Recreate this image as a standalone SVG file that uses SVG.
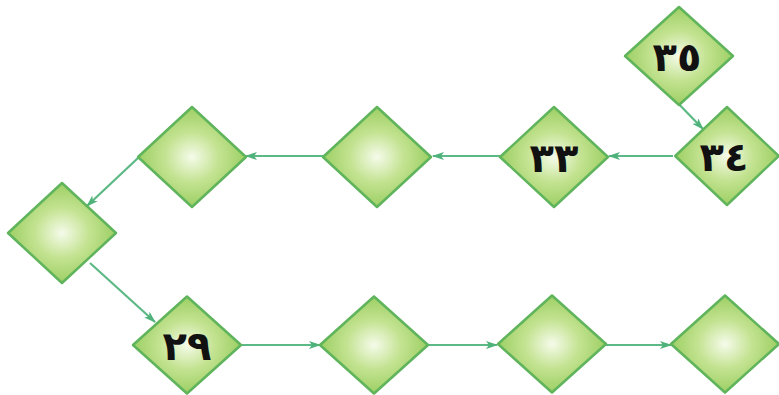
<svg xmlns="http://www.w3.org/2000/svg" width="779" height="395" viewBox="0 0 779 395">
<defs>
<radialGradient id="g" cx="0.5" cy="0.5" r="0.5">
<stop offset="0" stop-color="#f5fbea"/>
<stop offset="0.5" stop-color="#c4e392"/>
<stop offset="1" stop-color="#9ccf63"/>
</radialGradient>
<marker id="a" markerWidth="12" markerHeight="8" refX="11" refY="4" orient="auto" markerUnits="userSpaceOnUse">
<path d="M0,0 L12,4 L0,8 L3,4 Z" fill="#4fb27a"/>
</marker>
<path id="d" d="M0,-50 L54,0 L0,50 L-54,0 Z"/>
</defs>
<style>
.n use{fill:url(#g);stroke:#5fb45c;stroke-width:2.5;stroke-linejoin:round}
.n text{font-family:"DejaVu Sans",sans-serif;font-weight:bold;font-size:40px;fill:#111;text-anchor:middle}
.c line{stroke:#5cb985;stroke-width:2.2;marker-end:url(#a)}
</style>
<rect width="779" height="395" fill="#fff"/>
<g id="connectors" class="c">
<line x1="670" y1="95" x2="703" y2="129"/>
<line x1="673" y1="156" x2="609" y2="156"/>
<line x1="501" y1="156" x2="433" y2="156"/>
<line x1="323" y1="156" x2="246" y2="156"/>
<line x1="138" y1="158" x2="87" y2="206"/>
<line x1="90" y1="263" x2="155" y2="322"/>
<line x1="241" y1="345" x2="320" y2="345"/>
<line x1="428" y1="345" x2="497" y2="345"/>
<line x1="606" y1="345" x2="671" y2="345"/>
</g>
<g id="n35" class="n"><use href="#d" transform="translate(679,56) scale(1,0.98)"/><text x="677" y="71">٣٥</text></g>
<g id="n34" class="n"><use href="#d" transform="translate(727,156) scale(0.96,0.98)"/><text x="724" y="171">٣٤</text></g>
<g id="n33" class="n"><use href="#d" transform="translate(554,157)"/><text x="554" y="172">٣٣</text></g>
<g id="n32" class="n"><use href="#d" transform="translate(377,157)"/></g>
<g id="n31" class="n"><use href="#d" transform="translate(192,157)"/></g>
<g id="n30" class="n"><use href="#d" transform="translate(62,233)"/></g>
<g id="n29" class="n"><use href="#d" transform="translate(187,345) scale(1,0.97)"/><text x="187" y="360">٢٩</text></g>
<g id="n28" class="n"><use href="#d" transform="translate(374,345) scale(1,0.97)"/></g>
<g id="n27" class="n"><use href="#d" transform="translate(552,344) scale(1,0.97)"/></g>
<g id="n26" class="n"><use href="#d" transform="translate(725,344) scale(1,0.97)"/></g>
</svg>
